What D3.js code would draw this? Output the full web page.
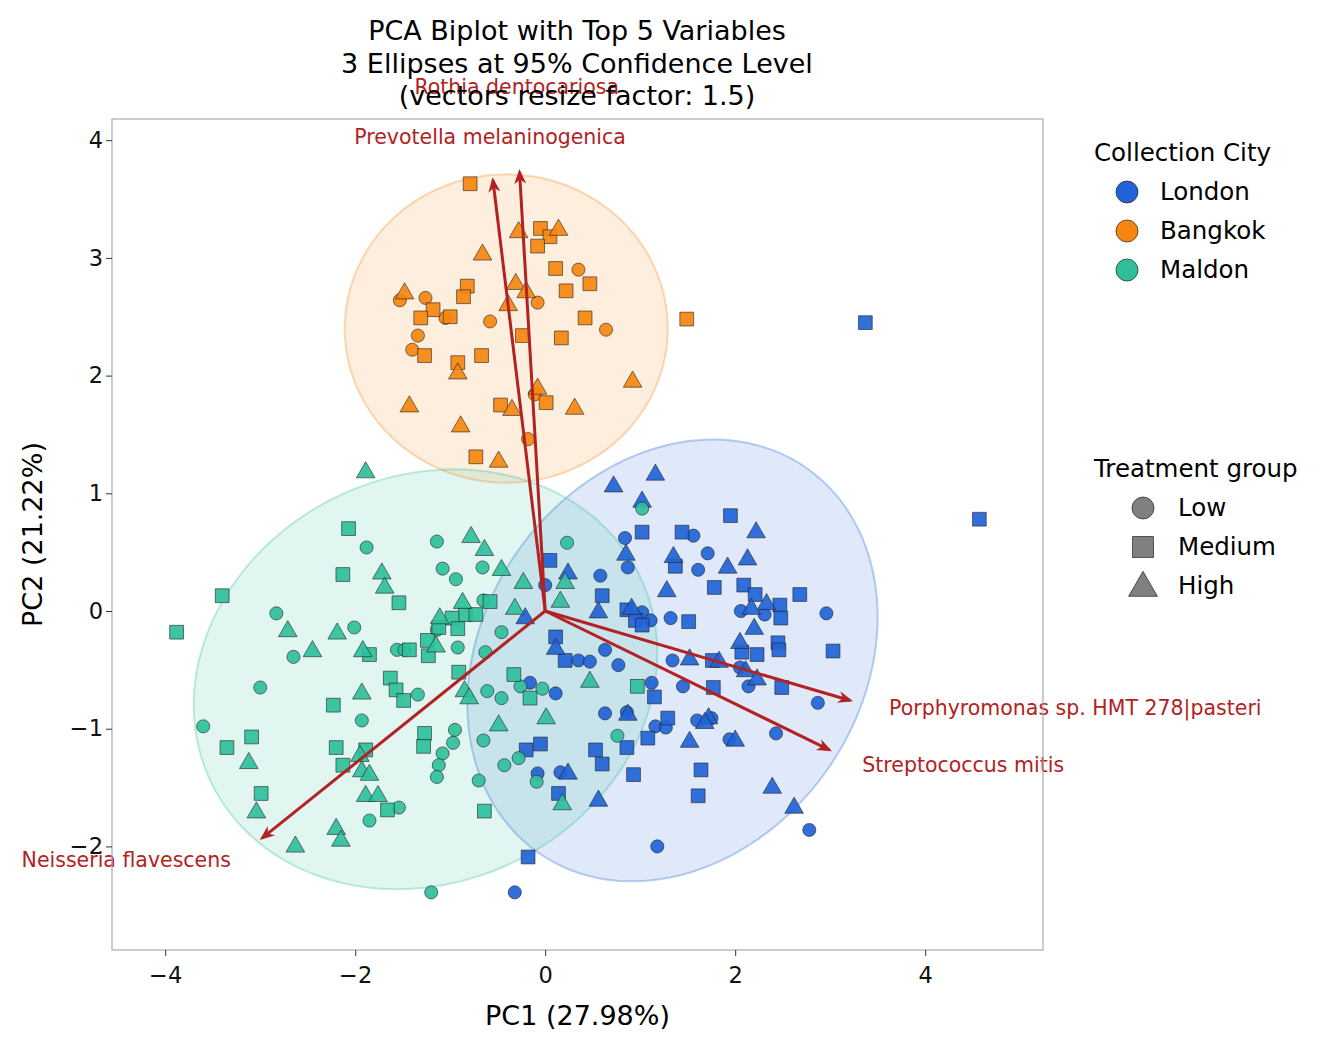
<!DOCTYPE html>
<html><head><meta charset="utf-8">
<script src="https://cdn.jsdelivr.net/npm/d3@7"></script>
<style>body{margin:0;background:#fff}text{font-family:"DejaVu Sans",sans-serif}</style>
</head><body><div id="chart"></div>
<script>
const londonLow = [[0.84,0.62],[1.56,0.64],[1.71,0.49],[1.61,0.35],[0.58,0.3],[0.87,0.37],[0,0.22],[1.02,-0.01],[1.11,-0.08],[1.32,-0.06],[2.06,0],[2.31,-0.03],[2.96,-0.02],[0.63,-0.33],[0.35,-0.42],[0.47,-0.43],[0.77,-0.46],[1.12,-0.61],[1.34,-0.42],[1.45,-0.64],[0.63,-0.87],[0.86,-0.86],[1.16,-0.98],[1.27,-0.99],[1.6,-0.93],[1.75,-0.91],[1.94,-1.09],[2.14,-0.64],[2.05,-0.48],[2.43,-1.04],[2.87,-0.78],[2.78,-1.86],[1.18,-2.0],[-0.32,-2.39],[-0.08,-1.38],[0.16,-1.37],[0.11,-0.7],[-0.16,-0.61]]
const londonMedium = [[0.05,0.43],[1.02,0.67],[1.44,0.67],[1.37,0.38],[1.95,0.81],[1.78,0.2],[2.09,0.22],[2.21,0.14],[2.47,0.05],[2.68,0.14],[2.48,-0.06],[0.6,0.13],[0.86,0.01],[0.95,-0.08],[1.02,-0.12],[1.51,-0.09],[0.11,-0.22],[0.21,-0.42],[1.76,-0.42],[2.07,-0.35],[2.23,-0.37],[2.45,-0.27],[2.46,-0.33],[3.03,-0.34],[2.49,-0.65],[1.77,-0.65],[1.15,-0.73],[1.29,-0.91],[1.08,-1.08],[0.53,-1.18],[0.6,-1.3],[0.86,-1.16],[0.93,-1.39],[1.64,-1.35],[1.61,-1.57],[0.14,-1.55],[-0.18,-2.09],[-0.05,-1.13],[-0.2,-1.18],[3.37,2.45],[4.57,0.78]]
const londonHigh = [[0.72,1.07],[1.16,1.17],[1.02,0.94],[0.85,0.49],[1.35,0.47],[2.22,0.68],[2.13,0.45],[1.92,0.38],[1.28,0.18],[0.24,0.33],[0.56,0],[0.91,0.03],[2.33,0.07],[2.17,0.03],[2.2,-0.14],[2.05,-0.26],[1.52,-0.4],[1.83,-0.42],[2.11,-0.5],[2.23,-0.57],[0.87,-0.87],[1.72,-0.9],[1.68,-0.94],[1.52,-1.1],[2.0,-1.09],[2.39,-1.49],[2.62,-1.66],[0.56,-1.6],[0.24,-1.37],[0.11,-0.31],[-0.21,-0.05]]
const bangkokLow = [[-1.53,2.64],[-1.26,2.66],[-1.34,2.34],[-1.4,2.22],[-1.05,2.49],[-0.58,2.46],[-0.08,2.62],[0.35,2.9],[0.64,2.39],[-0.11,1.84],[-0.18,1.46]]
const bangkokMedium = [[-0.79,3.63],[-0.05,3.25],[0.05,3.18],[-0.08,3.1],[0.11,2.91],[0.22,2.72],[0.47,2.78],[-0.82,2.76],[-0.86,2.67],[-1.18,2.56],[-1.31,2.49],[-1.0,2.5],[0.42,2.49],[-0.24,2.34],[0.17,2.32],[-1.27,2.17],[-0.67,2.17],[-0.92,2.11],[-0.47,1.75],[0.01,1.77],[-0.73,1.31],[1.49,2.48]]
const bangkokHigh = [[-1.48,2.71],[-0.66,3.04],[-0.28,3.23],[0.14,3.25],[-0.31,2.79],[-0.2,2.72],[-0.39,2.61],[-0.92,2.03],[-1.43,1.75],[-0.89,1.58],[-0.35,1.72],[-0.08,1.9],[0.31,1.73],[0.92,1.96],[-0.49,1.28]]
const maldonLow = [[1.02,0.87],[0.23,0.58],[-1.14,0.59],[-1.88,0.54],[-1.08,0.36],[-0.94,0.27],[-2.83,-0.02],[-2.01,-0.14],[-2.65,-0.39],[-3.0,-0.65],[-3.6,-0.98],[-1.56,-0.33],[-1.48,-0.33],[-1.14,-0.16],[-0.92,-0.31],[-0.65,0.09],[-0.66,0.37],[-0.63,-0.35],[-0.46,-0.18],[-1.34,-0.71],[-1.93,-0.93],[-0.95,-1.01],[-0.97,-1.12],[-1.08,-1.21],[-1.12,-1.31],[-1.14,-1.41],[-0.65,-1.1],[-0.46,-0.74],[-0.61,-0.68],[-0.26,-0.64],[-0.03,-0.66],[-0.28,-1.25],[-0.43,-1.31],[-0.7,-1.44],[-0.09,-1.45],[0.76,-1.06],[-1.85,-1.78],[-1.54,-1.67],[-1.2,-2.39]]
const maldonMedium = [[-2.07,0.7],[-2.13,0.31],[-1.54,0.07],[-3.4,0.13],[-3.88,-0.18],[-0.58,0.08],[-0.84,-0.03],[-0.73,-0.03],[-0.98,-0.06],[-1.12,-0.14],[-1.24,-0.25],[-0.92,-0.15],[-1.43,-0.33],[-1.85,-0.37],[-1.23,-0.38],[-1.63,-0.57],[-1.57,-0.67],[-1.49,-0.76],[-0.91,-0.52],[-0.33,-0.54],[-0.16,-0.74],[0.97,-0.64],[-2.23,-0.8],[-1.27,-1.04],[-1.28,-1.15],[-2.2,-1.16],[-1.89,-1.18],[-2.13,-1.31],[-3.09,-1.07],[-3.35,-1.16],[-2.99,-1.55],[-1.66,-1.69],[-0.64,-1.7]]
const maldonHigh = [[-1.89,1.19],[-0.78,0.64],[-0.64,0.53],[-1.72,0.33],[-1.69,0.21],[-1.11,-0.05],[-0.87,0.08],[-0.46,0.36],[-0.23,0.25],[-0.32,0.03],[0.21,0.25],[0.16,0.09],[-2.71,-0.16],[-2.45,-0.33],[-2.19,-0.18],[-1.92,-0.33],[-1.15,-0.29],[-0.85,-0.67],[-0.8,-0.73],[-0.49,-0.96],[0.01,-0.9],[0.47,-0.59],[-1.93,-0.69],[-1.95,-1.22],[-1.93,-1.35],[-1.85,-1.38],[-3.12,-1.28],[-3.04,-1.7],[-1.89,-1.56],[-1.76,-1.56],[-2.2,-1.84],[-2.15,-1.94],[-2.63,-1.99],[0.18,-1.63]]

const cities = ['London','Bangkok','Maldon']
const cityColors = ['#2163d6','#f5860f','#2fbf9b']
const groups = ['Low','Medium','High']
// ellipse: cx, cy, a (x half-width), b, c (shear)
const ellipses = [[1.34,-0.42,2.16,1.84,0.37],[-0.41,2.4,1.7,1.31,0],[-1.26,-0.58,2.44,1.77,0.22]]
const vectorNames = ['Rothia dentocariosa','Prevotella melaninogenica','Porphyromonas sp. HMT 278|pasteri','Streptococcus mitis','Neisseria flavescens']
const vectorTips = [[-0.27,3.73],[-0.55,3.66],[3.21,-0.76],[2.99,-1.18],[-2.98,-1.93]]
const labelPos = [[-0.3,4.44],[-0.58,4.02],[5.58,-0.83],[4.4,-1.32],[-4.41,-2.12]]
const xTicks = [-4,-2,0,2,4], yTicks = [-2,-1,0,1,2,3,4]

const width = 1329, height = 1048, m = {l:112, r:1043, t:119, b:950}
const x = d3.scaleLinear().domain([-4.56,5.24]).range([m.l,m.r])
const y = d3.scaleLinear().domain([-2.88,4.18]).range([m.b,m.t])
const svg = d3.select('#chart').append('svg').attr('width',width).attr('height',height)

const ell = (e) => d3.line()(d3.range(0,2*Math.PI+0.05,0.05).map(t =>
  [x(e[0]+e[2]*Math.cos(t)), y(e[1]+e[4]*Math.cos(t)+e[3]*Math.sin(t))]))
const clip = svg.append('clipPath').attr('id','c').append('rect')
  .attr('x',m.l).attr('y',m.t).attr('width',m.r-m.l).attr('height',m.b-m.t)
const plot = svg.append('g').attr('clip-path','url(#c)')
ellipses.forEach((e,i) => plot.append('path').attr('d',ell(e))
  .attr('fill',cityColors[i]).attr('fill-opacity',0.14)
  .attr('stroke',cityColors[i]).attr('stroke-opacity',0.3).attr('stroke-width',2))

const symbols = [d3.symbolCircle,d3.symbolSquare,d3.symbolTriangle]
const sizes = [135,190,150]
const data = [[londonLow,londonMedium,londonHigh],[bangkokLow,bangkokMedium,bangkokHigh],[maldonLow,maldonMedium,maldonHigh]]
data.forEach((city,ci) => city.forEach((pts,gi) => {
  plot.selectAll(null).data(pts).enter().append('path')
    .attr('d',d3.symbol().type(symbols[gi]).size(sizes[gi]))
    .attr('transform',d => `translate(${x(d[0])},${y(d[1])+(gi==2?1.5:0)})`)
    .attr('fill',cityColors[ci]).attr('fill-opacity',0.92)
    .attr('stroke','#222').attr('stroke-width',0.6)
}))

svg.append('defs').append('marker').attr('id','ah').attr('viewBox','0 0 10 10')
  .attr('refX',8).attr('refY',5).attr('markerWidth',5).attr('markerHeight',5)
  .attr('orient','auto').attr('markerUnits','strokeWidth')
  .append('path').attr('d','M0,1 L10,5 L0,9 L3,5 Z').attr('fill','#b22222')
vectorTips.forEach(v => svg.append('line').attr('x1',x(0)).attr('y1',y(0))
  .attr('x2',x(v[0])).attr('y2',y(v[1])).attr('stroke','#b22222').attr('stroke-width',3)
  .attr('marker-end','url(#ah)'))
vectorNames.forEach((n,i) => svg.append('text').attr('x',x(labelPos[i][0])).attr('y',y(labelPos[i][1]))
  .attr('text-anchor','middle').attr('dominant-baseline','middle')
  .attr('fill','#b22222').attr('font-size',20.5).text(n))

svg.append('rect').attr('x',m.l).attr('y',m.t).attr('width',m.r-m.l).attr('height',m.b-m.t)
  .attr('fill','none').attr('stroke','#aaa').attr('stroke-width',1.2)
const xa = svg.append('g').attr('transform',`translate(0,${m.b})`)
  .call(d3.axisBottom(x).tickValues(xTicks).tickSize(6).tickFormat(d => d<0?'\u2212'+(-d):d))
const ya = svg.append('g').attr('transform',`translate(${m.l},0)`)
  .call(d3.axisLeft(y).tickValues(yTicks).tickSize(6).tickFormat(d => d<0?'\u2212'+(-d):d))
;[xa,ya].forEach(a => {a.select('.domain').remove(); a.selectAll('text').attr('font-size',22.5).attr('fill','#111')
  .attr('font-family','DejaVu Sans'); a.selectAll('line').attr('stroke','#333')})
xa.selectAll('text').attr('dy','1.05em')

svg.append('text').attr('x',(m.l+m.r)/2).attr('y',1025).attr('text-anchor','middle').attr('font-size',27).text('PC1 (27.98%)')
svg.append('text').attr('transform',`translate(42,${(m.t+m.b)/2}) rotate(-90)`).attr('text-anchor','middle').attr('font-size',27).text('PC2 (21.22%)')
;['PCA Biplot with Top 5 Variables','3 Ellipses at 95% Confidence Level','(vectors resize factor: 1.5)']
  .forEach((t,i) => svg.append('text').attr('x',577).attr('y',40+i*32.5).attr('text-anchor','middle').attr('font-size',27).text(t))

svg.append('text').attr('x',1094).attr('y',161).attr('font-size',24.5).text('Collection City')
cities.forEach((c,i) => {
  svg.append('circle').attr('cx',1127).attr('cy',192+i*39).attr('r',11).attr('fill',cityColors[i]).attr('stroke','#222').attr('stroke-width',0.7)
  svg.append('text').attr('x',1160).attr('y',200+i*39).attr('font-size',24.5).text(c)
})
svg.append('text').attr('x',1094).attr('y',477).attr('font-size',24.5).text('Treatment group')
groups.forEach((g,i) => {
  svg.append('path').attr('d',d3.symbol().type(symbols[i]).size(i==1?440:i==0?380:360)())
    .attr('transform',`translate(1143,${508+i*39+(i==2?2:0)})`).attr('fill','#808080').attr('stroke','#222').attr('stroke-width',0.7)
  svg.append('text').attr('x',1178).attr('y',516+i*39).attr('font-size',24.5).text(g)
})
</script></body></html>
